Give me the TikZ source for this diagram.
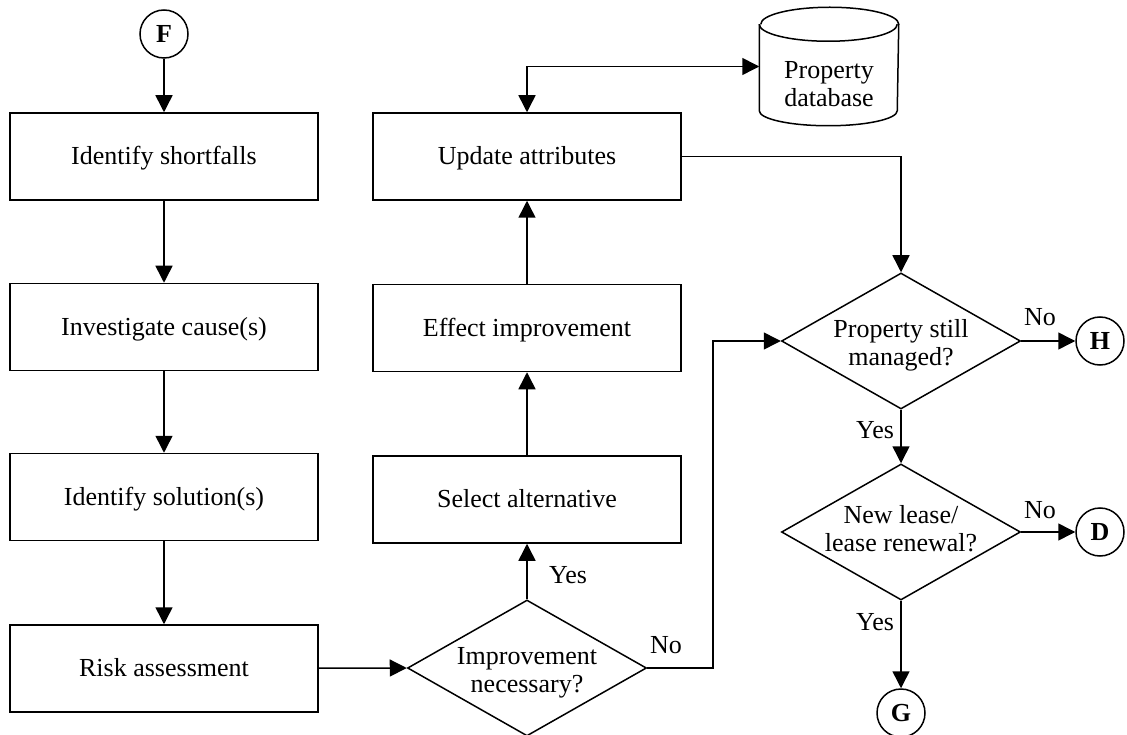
\documentclass[tikz,border=0pt]{standalone}
\usepackage{fontspec}
\setmainfont{Liberation Serif}
\usetikzlibrary{shapes.geometric,arrows.meta}
\begin{document}
\begin{tikzpicture}[x=1pt,y=1pt,line width=1.5pt,
  >={Triangle[length=17pt,width=17pt]},
  every node/.style={font=\fontsize{26}{28}\selectfont},
  stepbox/.style={draw,rectangle,inner sep=0pt,minimum width=308pt,minimum height=87pt,text height=22pt,text depth=6pt},
  decide/.style={draw,diamond,inner sep=0pt,minimum width=239pt,minimum height=136pt},
  dtext/.style={align=center,inner sep=0pt},
  conn/.style={draw,circle,inner sep=0pt,minimum size=48pt,font=\fontsize{26}{28}\selectfont\bfseries}]
\useasboundingbox (0,0) rectangle (1127,-735);
\node [conn] (F) at (164,-34) {F};
\node [stepbox] (s1) at (164,-156.5) {Identify shortfalls};
\node [stepbox] (s2) at (164,-327) {Investigate cause(s)};
\node [stepbox] (s3) at (164,-497) {Identify solution(s)};
\node [stepbox] (s4) at (164,-668.5) {Risk assessment};
\node [decide] (d1) at (527,-668) {};
\node [dtext] (d1t) at (527,-673) {Improvement\\necessary?};
\node [stepbox] (sel) at (527,-499.5) {Select alternative};
\node [stepbox] (eff) at (527,-328) {Effect improvement};
\node [stepbox] (upd) at (527,-156.5) {Update attributes};
\node [inner sep=0pt,minimum width=138pt,minimum height=117pt] (db) at (829,-66.5) {};
\node [dtext] (dbt) at (829,-84) {Property\\database};
\draw [black] ([yshift=-17pt]db.north west) -- ([yshift=15pt]db.south west)
  arc [start angle=180,end angle=360,x radius=69pt,y radius=15pt]
  -- ([yshift=-17pt]db.north east)
  arc [start angle=0,end angle=180,x radius=69pt,y radius=17pt];
\draw [black] ([yshift=-17pt]db.north west) arc [start angle=180,end angle=360,x radius=69pt,y radius=17pt];
\node [decide] (d2) at (901,-341) {};
\node [dtext] (d2t) at (901,-345) {Property still\\managed?};
\node [decide] (d3) at (901,-532) {};
\node [dtext] (d3t) at (901,-529) {New lease/\\lease renewal?};
\node [conn] (H) at (1100,-341) {H};
\node [conn] (D) at (1100,-532) {D};
\node [conn] (G) at (901,-713) {G};
\coordinate (bend) at (713,-668);
\draw [->] (F) -- (s1);
\draw [->] (s1) -- (s2);
\draw [->] (s2) -- (s3);
\draw [->] (s3) -- (s4);
\draw [->] (s4) -- (d1.west);
\draw [->] (d1.north) -- (sel.south);
\draw [->] (sel) -- (eff);
\draw [->] (eff) -- (upd);
\draw [<->] (upd.north) |- (db.west);
\draw [->] (upd.east) -| (d2.north);
\draw [->] (d1.east) -- (bend) |- (d2.west);
\draw [->] (d2.east) -- (H);
\draw [->] (d2.south) -- (d3.north);
\draw [->] (d3.east) -- (D);
\draw [->] (d3.south) -- (G);
\node (yes1) at (568,-575) {Yes};
\node (no1) at (666,-645) {No};
\node (no2) at (1040,-317) {No};
\node (yes2) at (875,-430) {Yes};
\node (no3) at (1040,-510) {No};
\node (yes3) at (875,-622) {Yes};
\end{tikzpicture}
\end{document}
